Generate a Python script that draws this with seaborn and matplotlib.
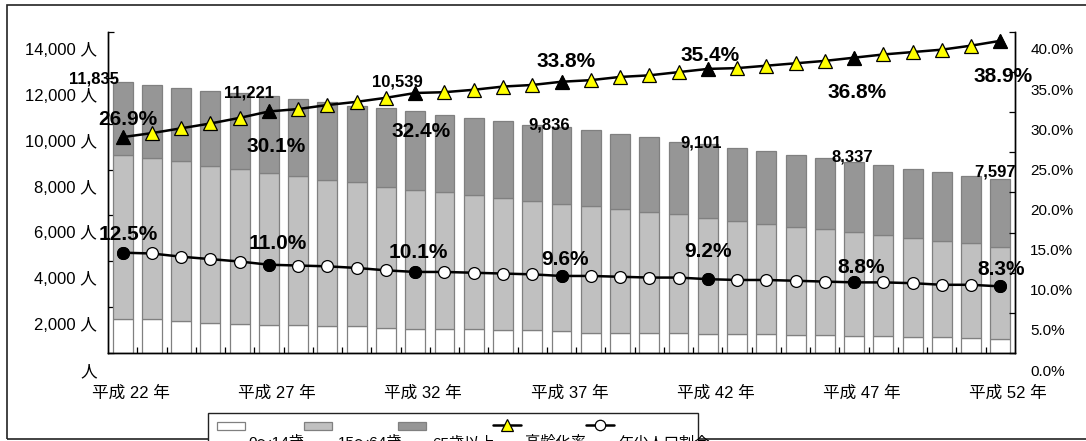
import numpy as np
import matplotlib
matplotlib.use("Agg")
import matplotlib.pyplot as plt
import seaborn as sns
from matplotlib.transforms import ScaledTranslation
from matplotlib.patches import Rectangle
from matplotlib.lines import Line2D

# 平成22年〜平成52年の人口推計
heisei_years = list(range(22, 53))
pop_0_14 = [1479, 1470, 1400, 1325, 1280, 1234, 1205, 1165, 1175, 1100, 1064,
            1060, 1030, 990, 985, 944, 890, 885, 885, 860, 837,
            835, 815, 785, 780, 734, 735, 700, 705, 670, 631]
pop_15_64 = [7172, 7030, 6955, 6840, 6740, 6609, 6515, 6390, 6265, 6150, 6060,
             5945, 5855, 5765, 5655, 5567, 5530, 5390, 5275, 5185, 5042,
             4905, 4805, 4720, 4625, 4535, 4405, 4310, 4190, 4110, 4011]
pop_65_over = [3184, 3190, 3215, 3275, 3330, 3378, 3360, 3405, 3330, 3420, 3415,
               3375, 3350, 3375, 3305, 3325, 3305, 3260, 3245, 3170, 3222,
               3185, 3190, 3115, 3100, 3068, 3059, 3015, 3015, 2940, 2955]
aging_rate = [26.9, 27.4, 28.0, 28.6, 29.3, 30.1, 30.4, 30.9, 31.3, 31.8, 32.4,
              32.5, 32.8, 33.2, 33.4, 33.8, 34.0, 34.4, 34.6, 35.0, 35.4,
              35.5, 35.8, 36.1, 36.4, 36.8, 37.2, 37.5, 37.8, 38.3, 38.9]
youth_rate = [12.5, 12.4, 12.0, 11.7, 11.4, 11.0, 10.9, 10.8, 10.6, 10.3, 10.1,
              10.1, 10.0, 9.9, 9.8, 9.6, 9.6, 9.5, 9.4, 9.4, 9.2,
              9.1, 9.1, 9.0, 8.9, 8.8, 8.8, 8.7, 8.5, 8.5, 8.3]
series_names = ["0～14歳", "15～64歳", "65歳以上", "高齢化率", "年少人口割合"]
y_ticks_people = list(range(0, 14001, 2000))
y_ticks_rate = [0, 5, 10, 15, 20, 25, 30, 35, 40]

# 5年ごとの節目（ラベル付き）
key_idx = list(range(0, 31, 5))
# ラベルの位置調整（ピクセル, 右・下が正）
total_offsets = [(-29, -3), (-20, -3), (-18, -29), (-12, -2), (-7, -1), (-2, -5), (-5, -7)]
aging_offsets = [(5, -18), (7, 35), (6, 39), (5, -20), (2, -13), (3, 35), (3, 36)]
youth_offsets = [(6, -18), (9, -21), (3, -19), (3, -16), (0, -28), (7, -15), (1, -17)]

sns.set_theme(style="ticks")
plt.rcParams["font.family"] = ["Liberation Sans", "Noto Sans CJK JP"]

W, H = 1086, 441
fig = plt.figure(figsize=(W / 100, H / 100), dpi=100)
fig.patch.set_facecolor("white")
ax = fig.add_axes([108 / W, 88 / H, 907 / W, 321 / H])

idx = np.arange(len(heisei_years))
x_cat = [str(y) for y in heisei_years]
b1 = np.array(pop_0_14)
b2 = b1 + np.array(pop_15_64)
totals = b2 + np.array(pop_65_over)

bar_kw = dict(width=0.68, edgecolor="#808080", linewidth=0.9, saturation=1, ax=ax)
sns.barplot(x=x_cat, y=pop_0_14, color="white", **bar_kw)
sns.barplot(x=x_cat, y=pop_15_64, bottom=b1, color="#c0c0c0", **bar_kw)
sns.barplot(x=x_cat, y=pop_65_over, bottom=b2, color="#969696", **bar_kw)

ax2 = ax.twinx()
sns.lineplot(x=idx, y=aging_rate, ax=ax2, color="black", linewidth=1.8,
             marker="^", markersize=9.5, markerfacecolor="#ffff00",
             markeredgecolor="black", markeredgewidth=0.9)
sns.scatterplot(x=idx[key_idx], y=np.array(aging_rate)[key_idx], ax=ax2,
                marker="^", s=90, color="black", edgecolor="black", linewidth=0.9, zorder=5)
sns.lineplot(x=idx, y=youth_rate, ax=ax2, color="black", linewidth=1.8,
             marker="o", markersize=8.5, markerfacecolor="white",
             markeredgecolor="black", markeredgewidth=0.9)
sns.scatterplot(x=idx[key_idx], y=np.array(youth_rate)[key_idx], ax=ax2,
                marker="o", s=72, color="black", edgecolor="black", linewidth=0.9, zorder=5)

# 軸
ax.set_xlim(-0.5, len(idx) - 0.5)
ax.set_ylim(0, 14000)
ax2.set_ylim(0, 40)
for a in (ax, ax2):
    a.set_xlabel("")
    a.set_ylabel("")
    a.spines["top"].set_visible(False)
    for s in ("left", "right", "bottom"):
        a.spines[s].set_color("black")
        a.spines[s].set_linewidth(1.0)

ax.set_xticks(key_idx, [f"平成 {heisei_years[i]} 年" for i in key_idx])
ax.set_xticks(idx[:-1] + 0.5, minor=True)
ax.tick_params(axis="x", which="major", bottom=True, length=0, pad=23, labelsize=12,
               labelcolor="black")
ax.tick_params(axis="x", which="minor", bottom=True, direction="in", length=4,
               width=0.9, color="black")
ax.set_yticks(y_ticks_people, ["人"] + [f"{v:,} 人" for v in y_ticks_people[1:]])
ax.tick_params(axis="y", left=True, direction="in", length=4, width=0.9, color="black",
               pad=8, labelsize=12, labelcolor="black")
ax2.set_yticks(y_ticks_rate, [f"{v:.1f}%" for v in y_ticks_rate])
ax2.tick_params(axis="y", right=True, direction="in", length=4, width=0.9, color="black",
                pad=11, labelsize=11, labelcolor="black")

# 値ラベル
for i, (dx, dy) in zip(key_idx, total_offsets):
    ax.annotate(f"{totals[i]:,}", xy=(i, totals[i]), xytext=(dx, -dy),
                textcoords="offset pixels", ha="center", va="center",
                fontsize=12, fontweight="bold", color="black")
for i, (dx, dy) in zip(key_idx, aging_offsets):
    ax2.annotate(f"{aging_rate[i]:.1f}%", xy=(i, aging_rate[i]), xytext=(dx, -dy),
                 textcoords="offset pixels", ha="center", va="center",
                 fontsize=15, fontweight="bold", color="black", zorder=6)
for i, (dx, dy) in zip(key_idx, youth_offsets):
    ax2.annotate(f"{youth_rate[i]:.1f}%", xy=(i, youth_rate[i]), xytext=(dx, -dy),
                 textcoords="offset pixels", ha="center", va="center",
                 fontsize=15, fontweight="bold", color="black", zorder=6)

# 目盛りラベルの位置ずらし
down = ScaledTranslation(0, -17 / 100, fig.dpi_scale_trans)
for lab in ax.get_yticklabels() + ax2.get_yticklabels():
    lab.set_transform(lab.get_transform() + down)
shift_r = ScaledTranslation(8 / 100, 0, fig.dpi_scale_trans)
for lab in ax.get_xticklabels():
    lab.set_transform(lab.get_transform() + shift_r)

# 外枠
fig.patches.append(Rectangle((7 / W, 2 / H), 1.2, 434 / H, transform=fig.transFigure,
                             fill=False, edgecolor="#222222", linewidth=1.2))

# 凡例
def fx(px):
    return px / W

def fy(py):
    return (H - py) / H

fig.patches.append(Rectangle((fx(208), fy(470)), fx(698) - fx(208), fy(413) - fy(470),
                             transform=fig.transFigure, facecolor="white",
                             edgecolor="#222222", linewidth=1.0))
patch_colors = ["white", "#c0c0c0", "#969696"]
for x0, c in zip([217, 304, 398], patch_colors):
    fig.patches.append(Rectangle((fx(x0), fy(430)), fx(28), 8 / H, transform=fig.transFigure,
                                 facecolor=c, edgecolor="#808080", linewidth=0.9))
for x0, mk, fc in [(493, "^", "#ffff00"), (586, "o", "white")]:
    fig.lines.append(Line2D([fx(x0), fx(x0 + 14), fx(x0 + 28)], [fy(425)] * 3,
                            transform=fig.transFigure, color="black", linewidth=1.8,
                            marker=mk, markevery=[1], markersize=8 if mk == "^" else 7.5,
                            markerfacecolor=fc, markeredgecolor="black",
                            markeredgewidth=0.9))
for x0, name in zip([248, 338, 432, 525, 618], series_names):
    fig.text(fx(x0), fy(436), name, ha="left", va="top", fontsize=11, color="black")

fig.savefig("out.png", dpi=100)
